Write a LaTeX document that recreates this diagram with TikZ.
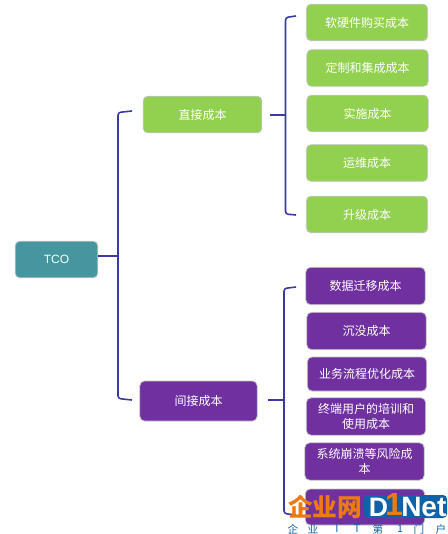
\documentclass[tikz,border=0pt]{standalone}
\usepackage{fontspec}
\usepackage{xcolor}
\setmainfont{Noto Sans CJK SC}
\newfontfamily\latinfont{Liberation Sans}
\usetikzlibrary{positioning,calc}
\definecolor{tcoteal}{HTML}{45969E}
\definecolor{costgreen}{HTML}{92D050}
\definecolor{costpurple}{HTML}{7030A0}
\definecolor{bracketblue}{HTML}{3A3AA0}
\definecolor{logoblue}{HTML}{0F62A8}
\definecolor{logoorange}{HTML}{EE7A12}
\tikzset{
  costbox/.style={draw=gray!45,line width=0.6pt,rounded corners=3.5pt,text=white,align=center,
    font=\fontsize{9}{11.5}\selectfont,inner sep=1pt},
  greenbox/.style={costbox,fill=costgreen,minimum width=91pt,minimum height=27.5pt,text width=86pt},
  purplebox/.style={costbox,fill=costpurple,minimum width=89.5pt,minimum height=28pt,text width=85pt},
  bracket/.style={draw=bracketblue,line width=1.2pt,rounded corners=2pt},
  logosubtext/.style={inner sep=0pt,text=logoblue,font=\fontsize{8}{8}\selectfont},
}
\begin{document}
\begin{tikzpicture}[x=0.75pt,y=-0.75pt]
\useasboundingbox (0,0) rectangle (447,534);
% root
\node[costbox,fill=tcoteal,minimum width=62pt,minimum height=27.5pt,font=\fontsize{9}{11.5}\latinfont] (tco) at (56.5,259.5) {TCO};
% second level
\node[costbox,fill=costgreen,minimum width=89pt,minimum height=27.5pt] (direct) at (202.5,114.5) {直接成本};
\node[costbox,fill=costpurple,minimum width=88pt,minimum height=30pt] (indirect) at (198.5,401) {间接成本};
% green leaves
\node[greenbox] (buy) at (367,22.5) {软硬件购买成本};
\node[greenbox] (custom) at (367.5,68) {定制和集成成本};
\node[greenbox] (deploy) at (367.5,113.5) {实施成本};
\node[greenbox] (ops) at (367,163) {运维成本};
\node[greenbox] (upgrade) at (367,214.5) {升级成本};
% purple leaves
\node[purplebox] (migrate) at (365.5,286) {数据迁移成本};
\node[purplebox] (sunk) at (366.5,331) {沉没成本};
\node[purplebox,minimum height=25.5pt] (process) at (367,374) {业务流程优化成本};
\node[purplebox] (training) at (366,416.5) {终端用户的培训和\\使用成本};
\node[purplebox] (crash) at (364.5,461.5) {系统崩溃等风险成\\本};
\node[purplebox,minimum height=27pt] (other) at (365,507) {};
% brackets
\coordinate (roottop) at (132,111);
\coordinate (rootmid) at (118,256);
\coordinate (rootbot) at (132,400);
\coordinate (directtop) at (296,16);
\coordinate (directmid) at (285.5,115);
\coordinate (directbot) at (296,215);
\coordinate (indirecttop) at (296,287);
\coordinate (indirectmid) at (284,400);
\coordinate (indirectbot) at (296,515);
\draw[bracket] (roottop) -- (118,112.5) -- (rootmid) -- (118,398.5) -- (rootbot);
\draw[bracket] (tco.east |- rootmid) -- (rootmid);
\draw[bracket] (directtop) -- (285.5,17.5) -- (directmid) -- (285.5,214) -- (directbot);
\draw[bracket] ($(direct.east |- directmid)+(8,0)$) -- (directmid);
\draw[bracket] (indirecttop) -- (284,288.5) -- (indirectmid) -- (284,513.5) -- (indirectbot);
\draw[bracket] ($(indirect.east |- indirectmid)+(10,0)$) -- (indirectmid);
% logo
\node[inner sep=0pt,text=logoorange,font=\fontsize{18.5}{18.5}\selectfont\bfseries] (logocn) at (325,507) {企业网};
\fill[logoblue,rounded corners=3pt] (364,495) rectangle (447,518);
\node[inner sep=0pt,text=white,font=\fontsize{20}{20}\latinfont\bfseries] (logod) at (378.5,507) {D};
\node[inner sep=0pt,text=logoorange,font=\fontsize{24}{24}\latinfont\bfseries] (logoone) at (394,504.5) {1};
\node[inner sep=0pt,text=white,font=\fontsize{21}{21}\latinfont\bfseries,anchor=west] (logonet) at (401,507) {Net};
\foreach \ch/\px [count=\i] in {企/293,业/313,I/337,T/357,第/378,1/400,门/419,户/441}
  \node[logosubtext] (logosub\i) at (\px,529) {\ch};
\end{tikzpicture}
\end{document}
